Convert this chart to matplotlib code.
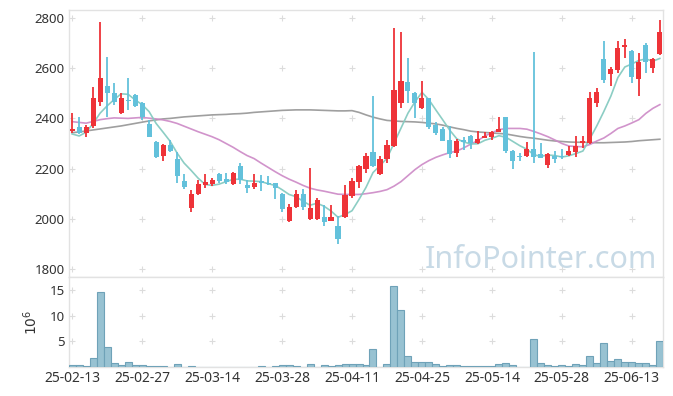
import matplotlib
matplotlib.use('Agg')
import matplotlib.pyplot as plt
import numpy as np

plt.rcParams['font.family'] = ['Noto Sans', 'DejaVu Sans']

# daily candles (KRW), one per trading day 25-02-13 .. 25-06-19
opens = [2348, 2364, 2343, 2368, 2467, 2529, 2500, 2420, 2475, 2492,
         2463, 2378, 2305, 2251, 2294, 2238, 2151, 2044, 2097, 2135,
         2139, 2178, 2158, 2137, 2210, 2135, 2128, 2152, 2144, 2141,
         2099, 1993, 2046, 2099, 1999, 1998, 2006, 1993, 1971, 2006,
         2092, 2148, 2197, 2265, 2177, 2237, 2291, 2463, 2546, 2502,
         2440, 2480, 2374, 2358, 2314, 2264, 2314, 2330, 2303, 2323,
         2327, 2347, 2404, 2271, 2250, 2251, 2277, 2258, 2214, 2251,
         2250, 2254, 2267, 2303, 2301, 2460, 2637, 2575, 2593, 2683,
         2669, 2556, 2692, 2600, 2655]
highs = [2422, 2404, 2374, 2524, 2783, 2646, 2540, 2502, 2560, 2496,
         2466, 2394, 2308, 2300, 2314, 2267, 2177, 2115, 2154, 2177,
         2161, 2181, 2181, 2185, 2221, 2155, 2177, 2174, 2172, 2144,
         2101, 2058, 2115, 2117, 2201, 2082, 2055, 2055, 2011, 2135,
         2161, 2214, 2263, 2489, 2250, 2314, 2759, 2743, 2639, 2505,
         2549, 2482, 2384, 2367, 2370, 2317, 2327, 2334, 2351, 2347,
         2350, 2404, 2406, 2273, 2263, 2305, 2663, 2303, 2262, 2271,
         2277, 2290, 2330, 2331, 2506, 2520, 2710, 2606, 2710, 2715,
         2671, 2659, 2699, 2639, 2792]
lows = [2342, 2338, 2324, 2362, 2450, 2404, 2453, 2416, 2433, 2447,
        2394, 2324, 2243, 2232, 2268, 2141, 2119, 2026, 2094, 2121,
        2131, 2141, 2140, 2134, 2139, 2102, 2119, 2111, 2133, 2077,
        2028, 1986, 2043, 2035, 1997, 1995, 1971, 1990, 1898, 2003,
        2082, 2121, 2181, 2208, 2175, 2221, 2288, 2440, 2463, 2400,
        2436, 2357, 2334, 2310, 2241, 2245, 2274, 2277, 2298, 2320,
        2314, 2345, 2262, 2197, 2232, 2248, 2221, 2241, 2201, 2221,
        2240, 2250, 2247, 2281, 2298, 2447, 2542, 2529, 2580, 2639,
        2540, 2489, 2582, 2580, 2652]
closes = [2356, 2343, 2364, 2480, 2560, 2503, 2467, 2480, 2471, 2451,
          2404, 2327, 2247, 2294, 2271, 2172, 2128, 2098, 2139, 2148,
          2154, 2152, 2148, 2181, 2155, 2121, 2144, 2141, 2137, 2121,
          2038, 2046, 2099, 2046, 2042, 2075, 1986, 2006, 1921, 2095,
          2151, 2210, 2250, 2212, 2237, 2294, 2513, 2549, 2510, 2463,
          2483, 2367, 2343, 2311, 2258, 2310, 2307, 2303, 2317, 2330,
          2347, 2359, 2272, 2232, 2247, 2277, 2245, 2243, 2258, 2237,
          2245, 2270, 2290, 2310, 2480, 2505, 2553, 2597, 2679, 2692,
          2566, 2623, 2626, 2635, 2743]

# moving averages as drawn (short / 20-day / long)
ma_short = [2338, 2330, 2345, 2380, 2421, 2450, 2475, 2498, 2496, 2474,
            2455, 2427, 2380, 2345, 2309, 2262, 2222, 2193, 2162, 2137,
            2133, 2138, 2148, 2157, 2158, 2151, 2150, 2148, 2140, 2133,
            2116, 2097, 2088, 2070, 2054, 2062, 2050, 2031, 2006, 2017,
            2032, 2077, 2125, 2184, 2212, 2241, 2301, 2361, 2421, 2466,
            2504, 2474, 2433, 2393, 2352, 2318, 2306, 2298, 2299, 2313,
            2321, 2331, 2325, 2308, 2291, 2277, 2255, 2249, 2254, 2252,
            2246, 2251, 2260, 2270, 2319, 2371, 2428, 2489, 2563, 2605,
            2617, 2631, 2637, 2628, 2639]
ma_mid = [2387, 2384, 2381, 2388, 2395, 2399, 2402, 2401, 2400, 2402,
          2404, 2401, 2398, 2394, 2388, 2380, 2369, 2358, 2347, 2337,
          2327, 2315, 2300, 2285, 2268, 2252, 2240, 2222, 2205, 2188,
          2172, 2158, 2146, 2133, 2122, 2115, 2110, 2104, 2098, 2097,
          2097, 2097, 2100, 2104, 2109, 2116, 2130, 2148, 2172, 2196,
          2216, 2232, 2245, 2255, 2264, 2270, 2283, 2298, 2312, 2330,
          2343, 2355, 2360, 2360, 2360, 2357, 2348, 2338, 2327, 2314,
          2300, 2290, 2288, 2287, 2296, 2310, 2322, 2340, 2360, 2370,
          2382, 2395, 2420, 2440, 2455]
ma_long = [2343, 2346, 2350, 2354, 2358, 2362, 2366, 2370, 2375, 2380,
           2385, 2390, 2394, 2398, 2400, 2403, 2406, 2408, 2410, 2412,
           2414, 2415, 2416, 2418, 2419, 2421, 2424, 2426, 2428, 2430,
           2432, 2433, 2434, 2434, 2434, 2433, 2432, 2431, 2430, 2430,
           2431, 2424, 2414, 2405, 2398, 2392, 2390, 2388, 2387, 2386,
           2384, 2381, 2378, 2373, 2366, 2360, 2355, 2349, 2346, 2344,
           2342, 2340, 2338, 2333, 2328, 2324, 2321, 2317, 2313, 2310,
           2308, 2306, 2305, 2305, 2304, 2303, 2303, 2304, 2305, 2306,
           2308, 2311, 2313, 2315, 2317]

# volume in millions of shares
volume = [0.46, 0.46, 0.12, 1.8, 14.7, 4.0, 0.85, 0.46, 1.05, 0.46,
          0.46, 0.26, 0.26, 0.26, 0.07, 0.66, 0.07, 0.26, 0.07, 0.07,
          0.03, 0.07, 0.07, 0.03, 0.07, 0.07, 0.03, 0.26, 0.07, 0.26,
          0.46, 0.46, 0.26, 0.07, 0.66, 0.07, 0.46, 0.2, 0.33, 0.66,
          0.5, 0.5, 0.33, 3.5, 0.07, 0.5, 15.9, 11.2, 2.2, 0.92,
          0.92, 0.92, 0.5, 0.13, 0.33, 0.33, 0.13, 0.1, 0.1, 0.1,
          0.1, 0.5, 0.72, 0.33, 0.02, 0.02, 5.5, 0.72, 0.33, 0.13,
          0.33, 0.13, 0.5, 0.33, 2.1, 0.72, 4.7, 1.1, 1.5, 0.92,
          0.92, 0.72, 0.72, 0.33, 5.1]

tick_pos = [0, 10, 20, 30, 40, 50, 60, 70, 80]
tick_labels = ['25-02-13', '25-02-27', '25-03-14', '25-03-28', '25-04-11',
               '25-04-25', '25-05-14', '25-05-28', '25-06-13']
price_ticks = [1800, 2000, 2200, 2400, 2600, 2800]
vol_ticks = [5, 10, 15]

UP = '#ee3338'
DOWN = '#63c1db'
SPINE = '#e2e2e2'

o = np.array(opens); c = np.array(closes)
h = np.array(highs); l = np.array(lows)
x = np.arange(len(o))
up = c >= o
col = np.where(up, UP, DOWN)

fig = plt.figure(figsize=(6.73, 3.96), dpi=100)
ax = fig.add_axes([69/673, 1-277/396, 594/673, 267/396])
axv = fig.add_axes([69/673, 1-367/396, 594/673, 90/396], sharex=ax)

# moving averages
ax.plot(x, ma_long, color='#959595', lw=1.2, alpha=0.9, zorder=2)
ax.plot(x, ma_mid, color='#cc88c6', lw=1.2, alpha=0.9, zorder=2)
ax.plot(x, ma_short, color='#86cbc1', lw=1.2, alpha=0.95, zorder=2)

# candles
ax.vlines(x, l, h, color=col, lw=1.3, zorder=3)
body = np.maximum(np.abs(c - o), 4)
ax.bar(x, body, bottom=np.minimum(o, c), width=0.72, color=col, zorder=4, linewidth=0)

ax.set_xlim(-0.45, 84.45)
ax.set_ylim(1768, 2832)
ax.set_yticks(price_ticks)
ax.tick_params(axis='x', labelbottom=False, length=0)
ax.tick_params(axis='y', length=0, labelsize=9.5, labelcolor='#333333', pad=3)

# volume
axv.bar(x, volume, width=1.0, color='#98c2d2', edgecolor='#6fa2b8', linewidth=0.8, zorder=3)
axv.set_ylim(0, 17.6)
axv.set_yticks(vol_ticks)
axv.set_xticks(tick_pos)
axv.set_xticklabels(tick_labels)
axv.tick_params(axis='both', length=0, labelsize=9.5, labelcolor='#333333')
axv.tick_params(axis='y', pad=3)
axv.tick_params(axis='x', pad=3, labelsize=10)
axv.set_ylabel('$10^6$', fontsize=10, color='#333333', labelpad=6)

# "+" grid markers and frames
for a, yt in ((ax, price_ticks), (axv, vol_ticks)):
    gx, gy = np.meshgrid(tick_pos, yt)
    a.scatter(gx.ravel(), gy.ravel(), marker='+', s=14, color='#dcdcdc', lw=0.8, zorder=1)
    for s in a.spines.values():
        s.set_color(SPINE)
        s.set_linewidth(1.0)

ax.text(0.99, 0.035, 'InfoPointer.com', transform=ax.transAxes, ha='right', va='baseline',
        fontsize=22, color='#c8dae6', zorder=1)

fig.savefig('out.png', dpi=100)
